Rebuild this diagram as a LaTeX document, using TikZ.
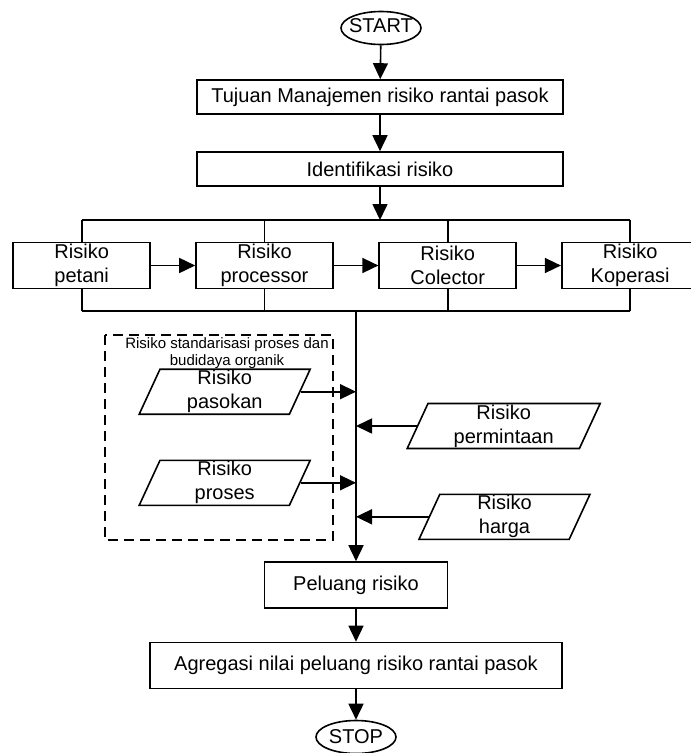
\documentclass[tikz,border=0pt]{standalone}
\usepackage{fontspec}
\setmainfont{Liberation Sans}
\usetikzlibrary{shapes.geometric,arrows.meta}

\begin{document}
\begin{tikzpicture}[x=1pt, y=-1pt, line width=1.6pt,
    every node/.style={font=\fontsize{20}{24}\selectfont, inner sep=0pt},
    box/.style={draw, rectangle, align=center},
    stagebox/.style={box, minimum width=137pt, minimum height=46pt},
    term/.style={draw, ellipse, minimum width=80pt, minimum height=33pt},
    io/.style={draw, trapezium, trapezium left angle=64, trapezium right angle=116,
        trapezium stretches body, align=center, minimum height=45pt},
    arr/.style={-{Triangle[length=16pt, width=15pt]}}]
    \useasboundingbox (0,0) rectangle (691,753);
    % Awal
    \node[term, label={[yshift=2pt]center:START}] (start) at (381,28) {};
    \node[box, minimum width=366pt, minimum height=34pt] (tujuan) at (380,97) {Tujuan Manajemen risiko rantai pasok};
    \node[box, minimum width=366pt, minimum height=34pt] (ident) at (380,169) {Identifikasi risiko};
    \coordinate (bar) at (380,220);
    \coordinate (spine) at (356,311);
    \draw[arr] (start) -- (tujuan);
    \draw[arr] (tujuan) -- (ident);
    \draw[arr] (ident) -- (bar);
    % Rantai pasok
    \node[stagebox] (petani) at (81.7,265.5) {Risiko\\petani};
    \node[stagebox] (processor) at (264.5,265.5) {Risiko\\processor};
    \node[stagebox] (colector) at (447.7,265.5) {Risiko\\Colector};
    \node[stagebox] (koperasi) at (630.2,265.5) {Risiko\\Koperasi};
    \draw[arr] (petani) -- (processor);
    \draw[arr] (processor) -- (colector);
    \draw[arr] (colector) -- (koperasi);
    \foreach \n in {petani,processor,colector,koperasi} {
        \draw (\n.north) -- (\n.north |- bar);
        \draw (\n.south) -- (\n.south |- spine);
    }
    \draw (petani.north |- bar) -- (koperasi.north |- bar);
    \draw (petani.south |- spine) -- (koperasi.south |- spine);
    % Kelompok standarisasi
    \draw[dash pattern=on 10pt off 6pt] (105,335) rectangle (333,540);
    \node[font=\fontsize{15}{17.7}\selectfont, align=center] (grouplabel) at (227,353) {Risiko standarisasi proses dan\\budidaya organik};
    \node[io, minimum width=171pt] (pasokan) at (224.7,391.7) {Risiko\\pasokan};
    \node[io, minimum width=171pt] (proses) at (224.7,482.8) {Risiko\\proses};
    \node[io, minimum width=193pt] (permintaan) at (503.7,426) {Risiko\\permintaan};
    \node[io, minimum width=171pt] (harga) at (504.5,516.8) {Risiko\\harga};
    \draw[arr] (pasokan.east) -- (pasokan.east -| spine);
    \draw[arr] (proses.east) -- (proses.east -| spine);
    \draw[arr] (permintaan.west) -- (permintaan.west -| spine);
    \draw[arr] (harga.west) -- (harga.west -| spine);
    % Akhir
    \node[box, minimum width=183pt, minimum height=46pt] (peluang) at (356,585) {Peluang risiko};
    \node[box, minimum width=412pt, minimum height=46pt] (agregasi) at (356,665.5) {Agregasi nilai peluang risiko rantai pasok};
    \node[term, label=center:STOP] (stop) at (356,737) {};
    \draw[arr] (spine) -- (peluang);
    \draw[arr] (peluang) -- (agregasi);
    \draw[arr] (agregasi) -- (stop);
\end{tikzpicture}
\end{document}
